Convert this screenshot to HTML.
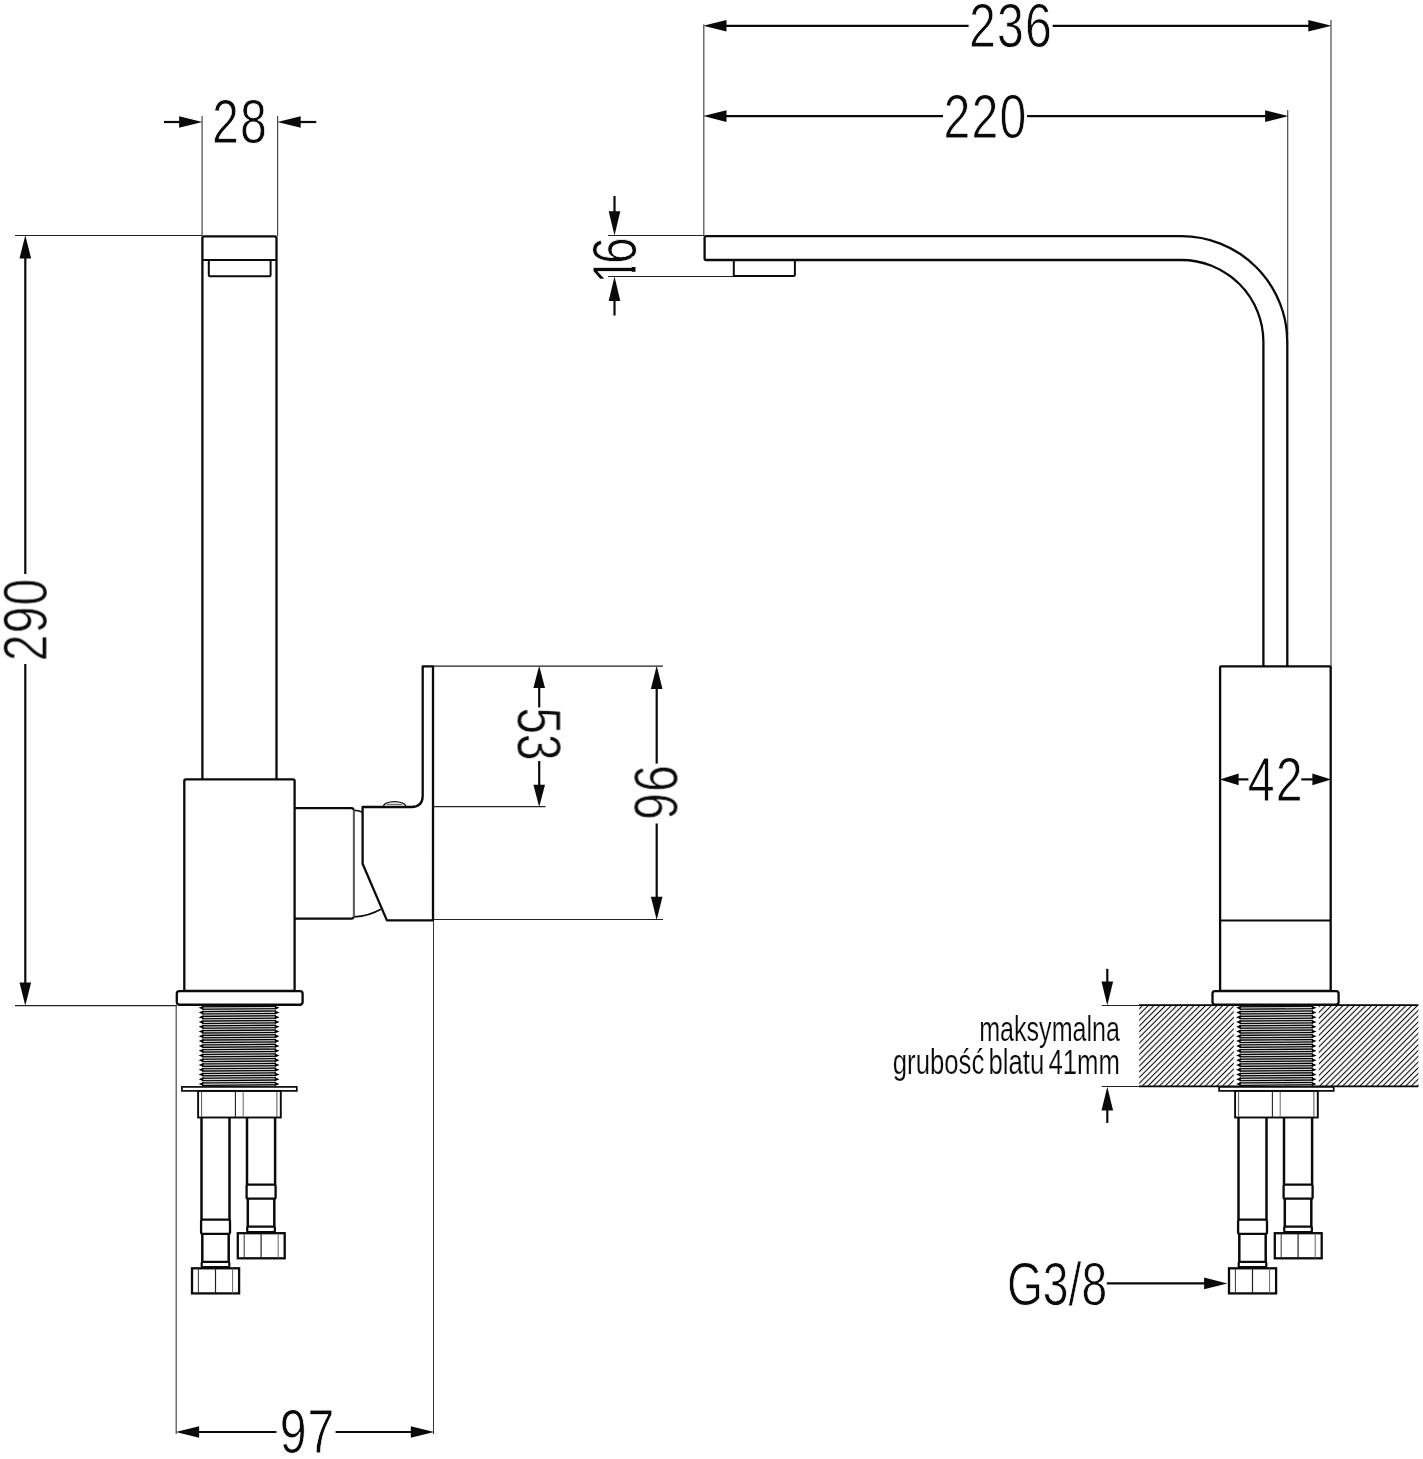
<!DOCTYPE html>
<html lang="pl">
<head>
<meta charset="utf-8">
<title>Rysunek techniczny baterii</title>
<style>
html,body{margin:0;padding:0;background:#fff;}
body{width:1423px;height:1459px;overflow:hidden;}
svg{display:block;}
text{font-family:"Liberation Sans",sans-serif;fill:#0a0a0a;}
.tx{opacity:0.999;}
.w{word-spacing:-4px;}
</style>
</head>
<body>
<svg width="1423" height="1459" viewBox="0 0 1423 1459">
<defs>
<pattern id="h" width="4.05" height="4.05" patternUnits="userSpaceOnUse" patternTransform="translate(1139.2,1006) rotate(-45)">
<rect x="0" y="1.5" width="4.05" height="1.05" fill="#000"/>
</pattern>
</defs>
<rect width="1423" height="1459" fill="#fff"/>
<g class="tx">
<text class="d" transform="translate(239.90,143.30) scale(0.77,1)" font-size="62.6" text-anchor="middle" stroke="#fff" stroke-width="0.9" letter-spacing="1.5">28</text>
<text class="d" transform="translate(46.80,619.40) rotate(-90) scale(0.77,1)" font-size="62.6" text-anchor="middle" stroke="#fff" stroke-width="0.9" letter-spacing="1.5">290</text>
<text class="d" transform="translate(517.60,733.80) rotate(90) scale(0.77,1)" font-size="62.6" text-anchor="middle" stroke="#fff" stroke-width="0.9" letter-spacing="-0.5">53</text>
<text class="d" transform="translate(634.40,793.00) rotate(90) scale(0.77,1)" font-size="62.6" text-anchor="middle" stroke="#fff" stroke-width="0.9" letter-spacing="1.5">96</text>
<text class="d" transform="translate(307.60,1453.00) scale(0.77,1)" font-size="62.6" text-anchor="middle" stroke="#fff" stroke-width="0.9" letter-spacing="1.5">97</text>
<text class="d" transform="translate(1011.00,47.20) scale(0.77,1)" font-size="62.6" text-anchor="middle" stroke="#fff" stroke-width="0.9" letter-spacing="1.5">236</text>
<text class="d" transform="translate(985.40,138.10) scale(0.77,1)" font-size="62.6" text-anchor="middle" stroke="#fff" stroke-width="0.9" letter-spacing="1.5">220</text>
<text transform="translate(635.9,283.8) rotate(-90) scale(0.77,1)" font-size="62.6" stroke="#fff" stroke-width="0.9">1<tspan dx="-9.2">6</tspan></text>
<rect x="630.4" y="271.8" width="7" height="9.5" fill="#fff"/>
<rect x="631.6" y="256.5" width="6" height="10.5" fill="#fff"/>
<text class="d" transform="translate(1275.80,801.00) scale(0.77,1)" font-size="62.6" text-anchor="middle" stroke="#fff" stroke-width="0.9" letter-spacing="1.5">42</text>
<text class="d" transform="translate(1057.00,1304.50) scale(0.752,1)" font-size="61.5" text-anchor="middle" stroke="#fff" stroke-width="0.9">G3/8</text>
<text class="s" transform="translate(1120.00,1040.80) scale(0.734,1)" font-size="34.2" text-anchor="end" stroke="#fff" stroke-width="0.2">maksymalna</text>
<text class="s w" transform="translate(1120.00,1073.80) scale(0.753,1)" font-size="34.2" text-anchor="end" stroke="#fff" stroke-width="0.2">grubość blatu 41mm</text>
</g>
<line x1="202.10" y1="116.00" x2="202.10" y2="236.00" stroke="#484848" stroke-width="1.2" stroke-linecap="butt"/>
<line x1="277.60" y1="116.00" x2="277.60" y2="236.00" stroke="#484848" stroke-width="1.2" stroke-linecap="butt"/>
<line x1="15.00" y1="235.50" x2="202.00" y2="235.50" stroke="#222" stroke-width="1.2" stroke-linecap="butt"/>
<line x1="15.00" y1="1005.60" x2="177.00" y2="1005.60" stroke="#222" stroke-width="1.2" stroke-linecap="butt"/>
<line x1="176.20" y1="1005.00" x2="176.20" y2="1434.00" stroke="#484848" stroke-width="1.2" stroke-linecap="butt"/>
<line x1="433.50" y1="920.00" x2="433.50" y2="1434.00" stroke="#333" stroke-width="1.0" stroke-linecap="butt"/>
<line x1="433.00" y1="666.20" x2="663.00" y2="666.20" stroke="#222" stroke-width="1.2" stroke-linecap="butt"/>
<line x1="433.00" y1="806.60" x2="545.50" y2="806.60" stroke="#222" stroke-width="1.2" stroke-linecap="butt"/>
<line x1="433.00" y1="919.50" x2="663.00" y2="919.50" stroke="#222" stroke-width="1.2" stroke-linecap="butt"/>
<path d="M202.4,779.4 V238 Q202.4,236.3 204.1,236.3 H274.8 Q276.5,236.3 276.5,238 V779.4" fill="none" stroke="#0a0a0a" stroke-width="2.3" stroke-linejoin="round" stroke-linecap="butt"/>
<line x1="202.40" y1="260.00" x2="276.50" y2="260.00" stroke="#0a0a0a" stroke-width="2.2" stroke-linecap="butt"/>
<path d="M208.8,260 V275 Q208.8,276.2 210,276.2 H269.4 Q270.6,276.2 270.6,275 V260" fill="none" stroke="#0a0a0a" stroke-width="2.0" stroke-linejoin="round" stroke-linecap="butt"/>
<rect x="184.30" y="779.40" width="110.30" height="211.60" rx="1.5" ry="1.5" fill="none" stroke="#0a0a0a" stroke-width="2.3"/>
<rect x="176.80" y="991.20" width="125.80" height="13.40" rx="2.5" ry="2.5" fill="#fff" stroke="#0a0a0a" stroke-width="2.3"/>
<clipPath id="c199"><rect x="197.20" y="1005.60" width="83.80" height="80.60"/></clipPath>
<g clip-path="url(#c199)">
<rect x="202.40" y="1005.60" width="73.40" height="80.60" fill="#727272"/>
<line x1="202.20" y1="1002.09" x2="276.00" y2="1001.52" stroke="#000" stroke-width="1.1" stroke-linecap="butt"/>
<line x1="202.20" y1="1003.33" x2="276.00" y2="1002.75" stroke="#fff" stroke-width="0.75" stroke-linecap="butt"/>
<line x1="202.20" y1="1004.52" x2="276.00" y2="1003.94" stroke="#000" stroke-width="1.1" stroke-linecap="butt"/>
<line x1="202.20" y1="1005.71" x2="276.00" y2="1005.13" stroke="#fff" stroke-width="0.75" stroke-linecap="butt"/>
<line x1="202.20" y1="1006.85" x2="276.00" y2="1006.28" stroke="#000" stroke-width="1.1" stroke-linecap="butt"/>
<line x1="202.20" y1="1008.09" x2="276.00" y2="1007.51" stroke="#fff" stroke-width="0.75" stroke-linecap="butt"/>
<line x1="202.20" y1="1009.28" x2="276.00" y2="1008.70" stroke="#000" stroke-width="1.1" stroke-linecap="butt"/>
<line x1="202.20" y1="1010.47" x2="276.00" y2="1009.89" stroke="#fff" stroke-width="0.75" stroke-linecap="butt"/>
<line x1="202.20" y1="1011.61" x2="276.00" y2="1011.04" stroke="#000" stroke-width="1.1" stroke-linecap="butt"/>
<line x1="202.20" y1="1012.85" x2="276.00" y2="1012.27" stroke="#fff" stroke-width="0.75" stroke-linecap="butt"/>
<line x1="202.20" y1="1014.04" x2="276.00" y2="1013.46" stroke="#000" stroke-width="1.1" stroke-linecap="butt"/>
<line x1="202.20" y1="1015.23" x2="276.00" y2="1014.65" stroke="#fff" stroke-width="0.75" stroke-linecap="butt"/>
<line x1="202.20" y1="1016.37" x2="276.00" y2="1015.80" stroke="#000" stroke-width="1.1" stroke-linecap="butt"/>
<line x1="202.20" y1="1017.61" x2="276.00" y2="1017.03" stroke="#fff" stroke-width="0.75" stroke-linecap="butt"/>
<line x1="202.20" y1="1018.80" x2="276.00" y2="1018.22" stroke="#000" stroke-width="1.1" stroke-linecap="butt"/>
<line x1="202.20" y1="1019.99" x2="276.00" y2="1019.41" stroke="#fff" stroke-width="0.75" stroke-linecap="butt"/>
<line x1="202.20" y1="1021.13" x2="276.00" y2="1020.56" stroke="#000" stroke-width="1.1" stroke-linecap="butt"/>
<line x1="202.20" y1="1022.37" x2="276.00" y2="1021.79" stroke="#fff" stroke-width="0.75" stroke-linecap="butt"/>
<line x1="202.20" y1="1023.56" x2="276.00" y2="1022.98" stroke="#000" stroke-width="1.1" stroke-linecap="butt"/>
<line x1="202.20" y1="1024.75" x2="276.00" y2="1024.17" stroke="#fff" stroke-width="0.75" stroke-linecap="butt"/>
<line x1="202.20" y1="1025.89" x2="276.00" y2="1025.32" stroke="#000" stroke-width="1.1" stroke-linecap="butt"/>
<line x1="202.20" y1="1027.13" x2="276.00" y2="1026.55" stroke="#fff" stroke-width="0.75" stroke-linecap="butt"/>
<line x1="202.20" y1="1028.32" x2="276.00" y2="1027.74" stroke="#000" stroke-width="1.1" stroke-linecap="butt"/>
<line x1="202.20" y1="1029.51" x2="276.00" y2="1028.93" stroke="#fff" stroke-width="0.75" stroke-linecap="butt"/>
<line x1="202.20" y1="1030.65" x2="276.00" y2="1030.08" stroke="#000" stroke-width="1.1" stroke-linecap="butt"/>
<line x1="202.20" y1="1031.89" x2="276.00" y2="1031.31" stroke="#fff" stroke-width="0.75" stroke-linecap="butt"/>
<line x1="202.20" y1="1033.08" x2="276.00" y2="1032.50" stroke="#000" stroke-width="1.1" stroke-linecap="butt"/>
<line x1="202.20" y1="1034.27" x2="276.00" y2="1033.69" stroke="#fff" stroke-width="0.75" stroke-linecap="butt"/>
<line x1="202.20" y1="1035.41" x2="276.00" y2="1034.84" stroke="#000" stroke-width="1.1" stroke-linecap="butt"/>
<line x1="202.20" y1="1036.65" x2="276.00" y2="1036.07" stroke="#fff" stroke-width="0.75" stroke-linecap="butt"/>
<line x1="202.20" y1="1037.84" x2="276.00" y2="1037.26" stroke="#000" stroke-width="1.1" stroke-linecap="butt"/>
<line x1="202.20" y1="1039.03" x2="276.00" y2="1038.45" stroke="#fff" stroke-width="0.75" stroke-linecap="butt"/>
<line x1="202.20" y1="1040.17" x2="276.00" y2="1039.60" stroke="#000" stroke-width="1.1" stroke-linecap="butt"/>
<line x1="202.20" y1="1041.41" x2="276.00" y2="1040.83" stroke="#fff" stroke-width="0.75" stroke-linecap="butt"/>
<line x1="202.20" y1="1042.60" x2="276.00" y2="1042.02" stroke="#000" stroke-width="1.1" stroke-linecap="butt"/>
<line x1="202.20" y1="1043.79" x2="276.00" y2="1043.21" stroke="#fff" stroke-width="0.75" stroke-linecap="butt"/>
<line x1="202.20" y1="1044.93" x2="276.00" y2="1044.36" stroke="#000" stroke-width="1.1" stroke-linecap="butt"/>
<line x1="202.20" y1="1046.17" x2="276.00" y2="1045.59" stroke="#fff" stroke-width="0.75" stroke-linecap="butt"/>
<line x1="202.20" y1="1047.36" x2="276.00" y2="1046.78" stroke="#000" stroke-width="1.1" stroke-linecap="butt"/>
<line x1="202.20" y1="1048.55" x2="276.00" y2="1047.97" stroke="#fff" stroke-width="0.75" stroke-linecap="butt"/>
<line x1="202.20" y1="1049.69" x2="276.00" y2="1049.12" stroke="#000" stroke-width="1.1" stroke-linecap="butt"/>
<line x1="202.20" y1="1050.93" x2="276.00" y2="1050.35" stroke="#fff" stroke-width="0.75" stroke-linecap="butt"/>
<line x1="202.20" y1="1052.12" x2="276.00" y2="1051.54" stroke="#000" stroke-width="1.1" stroke-linecap="butt"/>
<line x1="202.20" y1="1053.31" x2="276.00" y2="1052.73" stroke="#fff" stroke-width="0.75" stroke-linecap="butt"/>
<line x1="202.20" y1="1054.45" x2="276.00" y2="1053.88" stroke="#000" stroke-width="1.1" stroke-linecap="butt"/>
<line x1="202.20" y1="1055.69" x2="276.00" y2="1055.11" stroke="#fff" stroke-width="0.75" stroke-linecap="butt"/>
<line x1="202.20" y1="1056.88" x2="276.00" y2="1056.30" stroke="#000" stroke-width="1.1" stroke-linecap="butt"/>
<line x1="202.20" y1="1058.07" x2="276.00" y2="1057.49" stroke="#fff" stroke-width="0.75" stroke-linecap="butt"/>
<line x1="202.20" y1="1059.21" x2="276.00" y2="1058.64" stroke="#000" stroke-width="1.1" stroke-linecap="butt"/>
<line x1="202.20" y1="1060.45" x2="276.00" y2="1059.87" stroke="#fff" stroke-width="0.75" stroke-linecap="butt"/>
<line x1="202.20" y1="1061.64" x2="276.00" y2="1061.06" stroke="#000" stroke-width="1.1" stroke-linecap="butt"/>
<line x1="202.20" y1="1062.83" x2="276.00" y2="1062.25" stroke="#fff" stroke-width="0.75" stroke-linecap="butt"/>
<line x1="202.20" y1="1063.97" x2="276.00" y2="1063.40" stroke="#000" stroke-width="1.1" stroke-linecap="butt"/>
<line x1="202.20" y1="1065.21" x2="276.00" y2="1064.63" stroke="#fff" stroke-width="0.75" stroke-linecap="butt"/>
<line x1="202.20" y1="1066.40" x2="276.00" y2="1065.82" stroke="#000" stroke-width="1.1" stroke-linecap="butt"/>
<line x1="202.20" y1="1067.59" x2="276.00" y2="1067.01" stroke="#fff" stroke-width="0.75" stroke-linecap="butt"/>
<line x1="202.20" y1="1068.73" x2="276.00" y2="1068.16" stroke="#000" stroke-width="1.1" stroke-linecap="butt"/>
<line x1="202.20" y1="1069.97" x2="276.00" y2="1069.39" stroke="#fff" stroke-width="0.75" stroke-linecap="butt"/>
<line x1="202.20" y1="1071.16" x2="276.00" y2="1070.58" stroke="#000" stroke-width="1.1" stroke-linecap="butt"/>
<line x1="202.20" y1="1072.35" x2="276.00" y2="1071.77" stroke="#fff" stroke-width="0.75" stroke-linecap="butt"/>
<line x1="202.20" y1="1073.49" x2="276.00" y2="1072.92" stroke="#000" stroke-width="1.1" stroke-linecap="butt"/>
<line x1="202.20" y1="1074.73" x2="276.00" y2="1074.15" stroke="#fff" stroke-width="0.75" stroke-linecap="butt"/>
<line x1="202.20" y1="1075.92" x2="276.00" y2="1075.34" stroke="#000" stroke-width="1.1" stroke-linecap="butt"/>
<line x1="202.20" y1="1077.11" x2="276.00" y2="1076.53" stroke="#fff" stroke-width="0.75" stroke-linecap="butt"/>
<line x1="202.20" y1="1078.25" x2="276.00" y2="1077.68" stroke="#000" stroke-width="1.1" stroke-linecap="butt"/>
<line x1="202.20" y1="1079.49" x2="276.00" y2="1078.91" stroke="#fff" stroke-width="0.75" stroke-linecap="butt"/>
<line x1="202.20" y1="1080.68" x2="276.00" y2="1080.10" stroke="#000" stroke-width="1.1" stroke-linecap="butt"/>
<line x1="202.20" y1="1081.87" x2="276.00" y2="1081.29" stroke="#fff" stroke-width="0.75" stroke-linecap="butt"/>
<line x1="202.20" y1="1083.01" x2="276.00" y2="1082.44" stroke="#000" stroke-width="1.1" stroke-linecap="butt"/>
<line x1="202.20" y1="1084.25" x2="276.00" y2="1083.67" stroke="#fff" stroke-width="0.75" stroke-linecap="butt"/>
<line x1="202.20" y1="1085.44" x2="276.00" y2="1084.86" stroke="#000" stroke-width="1.1" stroke-linecap="butt"/>
<line x1="202.20" y1="1086.63" x2="276.00" y2="1086.05" stroke="#fff" stroke-width="0.75" stroke-linecap="butt"/>
<line x1="202.20" y1="1087.77" x2="276.00" y2="1087.20" stroke="#000" stroke-width="1.1" stroke-linecap="butt"/>
<line x1="202.20" y1="1089.01" x2="276.00" y2="1088.43" stroke="#fff" stroke-width="0.75" stroke-linecap="butt"/>
<line x1="202.20" y1="1090.20" x2="276.00" y2="1089.62" stroke="#000" stroke-width="1.1" stroke-linecap="butt"/>
<line x1="202.20" y1="1091.39" x2="276.00" y2="1090.81" stroke="#fff" stroke-width="0.75" stroke-linecap="butt"/>
<path d="M198.70,1003.04 L203.40,1001.04 V1005.04 Z M198.70,1007.80 L203.40,1005.80 V1009.80 Z M198.70,1012.56 L203.40,1010.56 V1014.56 Z M198.70,1017.32 L203.40,1015.32 V1019.32 Z M198.70,1022.08 L203.40,1020.08 V1024.08 Z M198.70,1026.84 L203.40,1024.84 V1028.84 Z M198.70,1031.60 L203.40,1029.60 V1033.60 Z M198.70,1036.36 L203.40,1034.36 V1038.36 Z M198.70,1041.12 L203.40,1039.12 V1043.12 Z M198.70,1045.88 L203.40,1043.88 V1047.88 Z M198.70,1050.64 L203.40,1048.64 V1052.64 Z M198.70,1055.40 L203.40,1053.40 V1057.40 Z M198.70,1060.16 L203.40,1058.16 V1062.16 Z M198.70,1064.92 L203.40,1062.92 V1066.92 Z M198.70,1069.68 L203.40,1067.68 V1071.68 Z M198.70,1074.44 L203.40,1072.44 V1076.44 Z M198.70,1079.20 L203.40,1077.20 V1081.20 Z M198.70,1083.96 L203.40,1081.96 V1085.96 Z M198.70,1088.72 L203.40,1086.72 V1090.72 Z M279.50,1003.04 L274.80,1001.04 V1005.04 Z M279.50,1007.80 L274.80,1005.80 V1009.80 Z M279.50,1012.56 L274.80,1010.56 V1014.56 Z M279.50,1017.32 L274.80,1015.32 V1019.32 Z M279.50,1022.08 L274.80,1020.08 V1024.08 Z M279.50,1026.84 L274.80,1024.84 V1028.84 Z M279.50,1031.60 L274.80,1029.60 V1033.60 Z M279.50,1036.36 L274.80,1034.36 V1038.36 Z M279.50,1041.12 L274.80,1039.12 V1043.12 Z M279.50,1045.88 L274.80,1043.88 V1047.88 Z M279.50,1050.64 L274.80,1048.64 V1052.64 Z M279.50,1055.40 L274.80,1053.40 V1057.40 Z M279.50,1060.16 L274.80,1058.16 V1062.16 Z M279.50,1064.92 L274.80,1062.92 V1066.92 Z M279.50,1069.68 L274.80,1067.68 V1071.68 Z M279.50,1074.44 L274.80,1072.44 V1076.44 Z M279.50,1079.20 L274.80,1077.20 V1081.20 Z M279.50,1083.96 L274.80,1081.96 V1085.96 Z M279.50,1088.72 L274.80,1086.72 V1090.72 Z " fill="#000"/>
</g>
<line x1="178.50" y1="1005.00" x2="301.00" y2="1005.00" stroke="#0a0a0a" stroke-width="1.8" stroke-linecap="butt"/>
<rect x="181.90" y="1086.90" width="114.90" height="4.00" rx="0" ry="0" fill="#fff" stroke="#0a0a0a" stroke-width="1.7"/>
<rect x="198.10" y="1090.90" width="82.70" height="26.60" rx="0" ry="0" fill="none" stroke="#0a0a0a" stroke-width="1.9"/>
<line x1="201.60" y1="1091.50" x2="201.60" y2="1117.00" stroke="#555" stroke-width="1.0" stroke-linecap="butt"/>
<line x1="235.40" y1="1091.50" x2="235.40" y2="1117.00" stroke="#222" stroke-width="1.1" stroke-linecap="butt"/>
<line x1="243.20" y1="1091.50" x2="243.20" y2="1117.00" stroke="#666" stroke-width="1.0" stroke-linecap="butt"/>
<line x1="276.90" y1="1091.50" x2="276.90" y2="1117.00" stroke="#555" stroke-width="1.0" stroke-linecap="butt"/>
<line x1="201.50" y1="1117.50" x2="201.50" y2="1219.60" stroke="#0a0a0a" stroke-width="2.5" stroke-linecap="butt"/>
<line x1="229.50" y1="1117.50" x2="229.50" y2="1219.60" stroke="#0a0a0a" stroke-width="2.5" stroke-linecap="butt"/>
<rect x="201.10" y="1219.70" width="28.90" height="14.10" rx="1.5" ry="1.5" fill="none" stroke="#0a0a0a" stroke-width="2.3"/>
<line x1="202.30" y1="1233.60" x2="202.30" y2="1262.00" stroke="#0a0a0a" stroke-width="2.5" stroke-linecap="butt"/>
<line x1="228.70" y1="1233.60" x2="228.70" y2="1262.00" stroke="#0a0a0a" stroke-width="2.5" stroke-linecap="butt"/>
<rect x="201.70" y="1261.80" width="27.60" height="5.40" rx="1.5" ry="1.5" fill="none" stroke="#0a0a0a" stroke-width="2.2"/>
<rect x="192.00" y="1268.30" width="47.10" height="25.10" rx="0" ry="0" fill="none" stroke="#0a0a0a" stroke-width="2.3"/>
<line x1="198.40" y1="1268.40" x2="198.40" y2="1293.40" stroke="#333" stroke-width="1.0" stroke-linecap="butt"/>
<line x1="215.50" y1="1268.40" x2="215.50" y2="1293.40" stroke="#222" stroke-width="1.2" stroke-linecap="butt"/>
<line x1="232.60" y1="1268.40" x2="232.60" y2="1293.40" stroke="#666" stroke-width="1.0" stroke-linecap="butt"/>
<line x1="247.00" y1="1117.50" x2="247.00" y2="1184.50" stroke="#0a0a0a" stroke-width="2.5" stroke-linecap="butt"/>
<line x1="275.10" y1="1117.50" x2="275.10" y2="1184.50" stroke="#0a0a0a" stroke-width="2.5" stroke-linecap="butt"/>
<rect x="246.60" y="1184.60" width="29.00" height="14.10" rx="1.5" ry="1.5" fill="none" stroke="#0a0a0a" stroke-width="2.3"/>
<line x1="247.80" y1="1198.50" x2="247.80" y2="1226.90" stroke="#0a0a0a" stroke-width="2.5" stroke-linecap="butt"/>
<line x1="274.30" y1="1198.50" x2="274.30" y2="1226.90" stroke="#0a0a0a" stroke-width="2.5" stroke-linecap="butt"/>
<rect x="247.20" y="1226.70" width="27.70" height="5.40" rx="1.5" ry="1.5" fill="none" stroke="#0a0a0a" stroke-width="2.2"/>
<rect x="237.80" y="1233.20" width="46.90" height="25.10" rx="0" ry="0" fill="none" stroke="#0a0a0a" stroke-width="2.3"/>
<line x1="244.20" y1="1233.30" x2="244.20" y2="1258.30" stroke="#333" stroke-width="1.0" stroke-linecap="butt"/>
<line x1="261.10" y1="1233.30" x2="261.10" y2="1258.30" stroke="#222" stroke-width="1.2" stroke-linecap="butt"/>
<line x1="278.20" y1="1233.30" x2="278.20" y2="1258.30" stroke="#666" stroke-width="1.0" stroke-linecap="butt"/>
<path d="M295,808.2 H351.6 Q353.4,808.2 353.4,810 M295,918.6 H351.6 Q353.4,918.6 353.4,916.8" fill="none" stroke="#0a0a0a" stroke-width="2.3" stroke-linejoin="round" stroke-linecap="butt"/>
<line x1="353.90" y1="809.50" x2="353.90" y2="917.50" stroke="#5a5a5a" stroke-width="2.1" stroke-linecap="butt"/>
<path d="M354.3,810.3 Q358,810.6 362,812" fill="none" stroke="#0a0a0a" stroke-width="1.6" stroke-linejoin="round" stroke-linecap="butt"/>
<path d="M354.3,916.8 Q369,916 380.8,909.2" fill="none" stroke="#0a0a0a" stroke-width="1.7" stroke-linejoin="round" stroke-linecap="butt"/>
<path d="M383.4,806.6 A11.2,5.0 0 0 1 405.8,806.6" fill="#fff" stroke="#0a0a0a" stroke-width="1.2" stroke-linejoin="round" stroke-linecap="butt"/>
<line x1="386.80" y1="804.30" x2="402.40" y2="804.30" stroke="#222" stroke-width="0.8" stroke-linecap="butt"/>
<path d="M422.7,666.4 H433.0 V920.4 H386.9 L362.6,863.8 V807.0 H411.5 Q422.7,807.0 422.7,795.8 Z" fill="none" stroke="#0a0a0a" stroke-width="2.3" stroke-linejoin="round" stroke-linecap="butt"/>
<line x1="164.00" y1="122.00" x2="180.00" y2="122.00" stroke="#0a0a0a" stroke-width="2.2" stroke-linecap="butt"/>
<polygon points="202.40,122.00 179.10,116.20 179.10,127.80" fill="#0a0a0a"/>
<line x1="300.00" y1="122.00" x2="316.30" y2="122.00" stroke="#0a0a0a" stroke-width="2.2" stroke-linecap="butt"/>
<polygon points="277.40,122.00 300.70,116.20 300.70,127.80" fill="#0a0a0a"/>
<line x1="25.30" y1="258.00" x2="25.30" y2="574.00" stroke="#0a0a0a" stroke-width="2.2" stroke-linecap="butt"/>
<line x1="25.30" y1="664.00" x2="25.30" y2="983.00" stroke="#0a0a0a" stroke-width="2.2" stroke-linecap="butt"/>
<polygon points="25.30,235.20 19.50,258.50 31.10,258.50" fill="#0a0a0a"/>
<polygon points="25.30,1005.80 19.50,982.50 31.10,982.50" fill="#0a0a0a"/>
<line x1="539.20" y1="687.00" x2="539.20" y2="707.40" stroke="#0a0a0a" stroke-width="2.2" stroke-linecap="butt"/>
<line x1="539.20" y1="761.00" x2="539.20" y2="785.00" stroke="#0a0a0a" stroke-width="2.2" stroke-linecap="butt"/>
<polygon points="539.20,665.80 533.40,688.10 545.00,688.10" fill="#0a0a0a"/>
<polygon points="539.20,807.00 533.40,784.70 545.00,784.70" fill="#0a0a0a"/>
<line x1="656.70" y1="688.00" x2="656.70" y2="763.60" stroke="#0a0a0a" stroke-width="2.2" stroke-linecap="butt"/>
<line x1="656.70" y1="823.50" x2="656.70" y2="898.00" stroke="#0a0a0a" stroke-width="2.2" stroke-linecap="butt"/>
<polygon points="656.70,665.80 650.90,689.10 662.50,689.10" fill="#0a0a0a"/>
<polygon points="656.70,920.00 650.90,896.70 662.50,896.70" fill="#0a0a0a"/>
<line x1="198.00" y1="1432.00" x2="276.50" y2="1432.00" stroke="#0a0a0a" stroke-width="2.2" stroke-linecap="butt"/>
<line x1="335.60" y1="1432.00" x2="412.00" y2="1432.00" stroke="#0a0a0a" stroke-width="2.2" stroke-linecap="butt"/>
<polygon points="175.80,1432.00 199.10,1426.20 199.10,1437.80" fill="#0a0a0a"/>
<polygon points="434.10,1432.00 410.80,1426.20 410.80,1437.80" fill="#0a0a0a"/>
<line x1="703.80" y1="24.50" x2="703.80" y2="236.00" stroke="#484848" stroke-width="1.2" stroke-linecap="butt"/>
<line x1="1331.00" y1="20.00" x2="1331.00" y2="668.00" stroke="#484848" stroke-width="1.2" stroke-linecap="butt"/>
<line x1="1287.70" y1="110.00" x2="1287.70" y2="335.00" stroke="#484848" stroke-width="1.2" stroke-linecap="butt"/>
<line x1="608.00" y1="235.50" x2="704.00" y2="235.50" stroke="#222" stroke-width="1.1" stroke-linecap="butt"/>
<line x1="608.00" y1="276.50" x2="734.00" y2="276.50" stroke="#222" stroke-width="1.1" stroke-linecap="butt"/>
<line x1="1101.70" y1="1005.50" x2="1139.50" y2="1005.50" stroke="#222" stroke-width="1.1" stroke-linecap="butt"/>
<line x1="1101.70" y1="1086.50" x2="1139.50" y2="1086.50" stroke="#222" stroke-width="1.1" stroke-linecap="butt"/>
<line x1="1139.00" y1="1005.20" x2="1418.40" y2="1005.20" stroke="#000" stroke-width="1.7" stroke-linecap="butt"/>
<line x1="1139.00" y1="1086.40" x2="1418.40" y2="1086.40" stroke="#000" stroke-width="1.7" stroke-linecap="butt"/>
<path d="M1287.3,666.3 V342.1 A105.9,105.9 0 0 0 1181.4,236.2 H706.2 Q704.6,236.2 704.6,237.8 V258.4 Q704.6,260.0 706.2,260.0 H1181.4 A82,82 0 0 1 1263.4,342.1 V666.3" fill="none" stroke="#0a0a0a" stroke-width="2.3" stroke-linejoin="round" stroke-linecap="butt"/>
<path d="M733.8,260 V276.0 H793.6 Q794.9,276.0 794.9,274.7 V260" fill="none" stroke="#0a0a0a" stroke-width="2.0" stroke-linejoin="round" stroke-linecap="butt"/>
<rect x="1220.10" y="666.40" width="110.60" height="324.60" rx="1" ry="1" fill="none" stroke="#0a0a0a" stroke-width="2.3"/>
<line x1="1220.10" y1="920.40" x2="1330.70" y2="920.40" stroke="#0a0a0a" stroke-width="2.0" stroke-linecap="butt"/>
<rect x="1139.2" y="1006" width="94.6" height="80.3" fill="url(#h)"/>
<rect x="1318.8" y="1006" width="99.6" height="80.3" fill="url(#h)"/>
<rect x="1212.50" y="991.20" width="126.10" height="13.40" rx="2.5" ry="2.5" fill="#fff" stroke="#0a0a0a" stroke-width="2.3"/>
<clipPath id="c1236"><rect x="1234.60" y="1005.60" width="83.40" height="80.60"/></clipPath>
<g clip-path="url(#c1236)">
<rect x="1239.80" y="1005.60" width="73.00" height="80.60" fill="#727272"/>
<line x1="1239.60" y1="1002.09" x2="1313.00" y2="1001.52" stroke="#000" stroke-width="1.1" stroke-linecap="butt"/>
<line x1="1239.60" y1="1003.33" x2="1313.00" y2="1002.75" stroke="#fff" stroke-width="0.75" stroke-linecap="butt"/>
<line x1="1239.60" y1="1004.52" x2="1313.00" y2="1003.94" stroke="#000" stroke-width="1.1" stroke-linecap="butt"/>
<line x1="1239.60" y1="1005.71" x2="1313.00" y2="1005.13" stroke="#fff" stroke-width="0.75" stroke-linecap="butt"/>
<line x1="1239.60" y1="1006.85" x2="1313.00" y2="1006.28" stroke="#000" stroke-width="1.1" stroke-linecap="butt"/>
<line x1="1239.60" y1="1008.09" x2="1313.00" y2="1007.51" stroke="#fff" stroke-width="0.75" stroke-linecap="butt"/>
<line x1="1239.60" y1="1009.28" x2="1313.00" y2="1008.70" stroke="#000" stroke-width="1.1" stroke-linecap="butt"/>
<line x1="1239.60" y1="1010.47" x2="1313.00" y2="1009.89" stroke="#fff" stroke-width="0.75" stroke-linecap="butt"/>
<line x1="1239.60" y1="1011.61" x2="1313.00" y2="1011.04" stroke="#000" stroke-width="1.1" stroke-linecap="butt"/>
<line x1="1239.60" y1="1012.85" x2="1313.00" y2="1012.27" stroke="#fff" stroke-width="0.75" stroke-linecap="butt"/>
<line x1="1239.60" y1="1014.04" x2="1313.00" y2="1013.46" stroke="#000" stroke-width="1.1" stroke-linecap="butt"/>
<line x1="1239.60" y1="1015.23" x2="1313.00" y2="1014.65" stroke="#fff" stroke-width="0.75" stroke-linecap="butt"/>
<line x1="1239.60" y1="1016.37" x2="1313.00" y2="1015.80" stroke="#000" stroke-width="1.1" stroke-linecap="butt"/>
<line x1="1239.60" y1="1017.61" x2="1313.00" y2="1017.03" stroke="#fff" stroke-width="0.75" stroke-linecap="butt"/>
<line x1="1239.60" y1="1018.80" x2="1313.00" y2="1018.22" stroke="#000" stroke-width="1.1" stroke-linecap="butt"/>
<line x1="1239.60" y1="1019.99" x2="1313.00" y2="1019.41" stroke="#fff" stroke-width="0.75" stroke-linecap="butt"/>
<line x1="1239.60" y1="1021.13" x2="1313.00" y2="1020.56" stroke="#000" stroke-width="1.1" stroke-linecap="butt"/>
<line x1="1239.60" y1="1022.37" x2="1313.00" y2="1021.79" stroke="#fff" stroke-width="0.75" stroke-linecap="butt"/>
<line x1="1239.60" y1="1023.56" x2="1313.00" y2="1022.98" stroke="#000" stroke-width="1.1" stroke-linecap="butt"/>
<line x1="1239.60" y1="1024.75" x2="1313.00" y2="1024.17" stroke="#fff" stroke-width="0.75" stroke-linecap="butt"/>
<line x1="1239.60" y1="1025.89" x2="1313.00" y2="1025.32" stroke="#000" stroke-width="1.1" stroke-linecap="butt"/>
<line x1="1239.60" y1="1027.13" x2="1313.00" y2="1026.55" stroke="#fff" stroke-width="0.75" stroke-linecap="butt"/>
<line x1="1239.60" y1="1028.32" x2="1313.00" y2="1027.74" stroke="#000" stroke-width="1.1" stroke-linecap="butt"/>
<line x1="1239.60" y1="1029.51" x2="1313.00" y2="1028.93" stroke="#fff" stroke-width="0.75" stroke-linecap="butt"/>
<line x1="1239.60" y1="1030.65" x2="1313.00" y2="1030.08" stroke="#000" stroke-width="1.1" stroke-linecap="butt"/>
<line x1="1239.60" y1="1031.89" x2="1313.00" y2="1031.31" stroke="#fff" stroke-width="0.75" stroke-linecap="butt"/>
<line x1="1239.60" y1="1033.08" x2="1313.00" y2="1032.50" stroke="#000" stroke-width="1.1" stroke-linecap="butt"/>
<line x1="1239.60" y1="1034.27" x2="1313.00" y2="1033.69" stroke="#fff" stroke-width="0.75" stroke-linecap="butt"/>
<line x1="1239.60" y1="1035.41" x2="1313.00" y2="1034.84" stroke="#000" stroke-width="1.1" stroke-linecap="butt"/>
<line x1="1239.60" y1="1036.65" x2="1313.00" y2="1036.07" stroke="#fff" stroke-width="0.75" stroke-linecap="butt"/>
<line x1="1239.60" y1="1037.84" x2="1313.00" y2="1037.26" stroke="#000" stroke-width="1.1" stroke-linecap="butt"/>
<line x1="1239.60" y1="1039.03" x2="1313.00" y2="1038.45" stroke="#fff" stroke-width="0.75" stroke-linecap="butt"/>
<line x1="1239.60" y1="1040.17" x2="1313.00" y2="1039.60" stroke="#000" stroke-width="1.1" stroke-linecap="butt"/>
<line x1="1239.60" y1="1041.41" x2="1313.00" y2="1040.83" stroke="#fff" stroke-width="0.75" stroke-linecap="butt"/>
<line x1="1239.60" y1="1042.60" x2="1313.00" y2="1042.02" stroke="#000" stroke-width="1.1" stroke-linecap="butt"/>
<line x1="1239.60" y1="1043.79" x2="1313.00" y2="1043.21" stroke="#fff" stroke-width="0.75" stroke-linecap="butt"/>
<line x1="1239.60" y1="1044.93" x2="1313.00" y2="1044.36" stroke="#000" stroke-width="1.1" stroke-linecap="butt"/>
<line x1="1239.60" y1="1046.17" x2="1313.00" y2="1045.59" stroke="#fff" stroke-width="0.75" stroke-linecap="butt"/>
<line x1="1239.60" y1="1047.36" x2="1313.00" y2="1046.78" stroke="#000" stroke-width="1.1" stroke-linecap="butt"/>
<line x1="1239.60" y1="1048.55" x2="1313.00" y2="1047.97" stroke="#fff" stroke-width="0.75" stroke-linecap="butt"/>
<line x1="1239.60" y1="1049.69" x2="1313.00" y2="1049.12" stroke="#000" stroke-width="1.1" stroke-linecap="butt"/>
<line x1="1239.60" y1="1050.93" x2="1313.00" y2="1050.35" stroke="#fff" stroke-width="0.75" stroke-linecap="butt"/>
<line x1="1239.60" y1="1052.12" x2="1313.00" y2="1051.54" stroke="#000" stroke-width="1.1" stroke-linecap="butt"/>
<line x1="1239.60" y1="1053.31" x2="1313.00" y2="1052.73" stroke="#fff" stroke-width="0.75" stroke-linecap="butt"/>
<line x1="1239.60" y1="1054.45" x2="1313.00" y2="1053.88" stroke="#000" stroke-width="1.1" stroke-linecap="butt"/>
<line x1="1239.60" y1="1055.69" x2="1313.00" y2="1055.11" stroke="#fff" stroke-width="0.75" stroke-linecap="butt"/>
<line x1="1239.60" y1="1056.88" x2="1313.00" y2="1056.30" stroke="#000" stroke-width="1.1" stroke-linecap="butt"/>
<line x1="1239.60" y1="1058.07" x2="1313.00" y2="1057.49" stroke="#fff" stroke-width="0.75" stroke-linecap="butt"/>
<line x1="1239.60" y1="1059.21" x2="1313.00" y2="1058.64" stroke="#000" stroke-width="1.1" stroke-linecap="butt"/>
<line x1="1239.60" y1="1060.45" x2="1313.00" y2="1059.87" stroke="#fff" stroke-width="0.75" stroke-linecap="butt"/>
<line x1="1239.60" y1="1061.64" x2="1313.00" y2="1061.06" stroke="#000" stroke-width="1.1" stroke-linecap="butt"/>
<line x1="1239.60" y1="1062.83" x2="1313.00" y2="1062.25" stroke="#fff" stroke-width="0.75" stroke-linecap="butt"/>
<line x1="1239.60" y1="1063.97" x2="1313.00" y2="1063.40" stroke="#000" stroke-width="1.1" stroke-linecap="butt"/>
<line x1="1239.60" y1="1065.21" x2="1313.00" y2="1064.63" stroke="#fff" stroke-width="0.75" stroke-linecap="butt"/>
<line x1="1239.60" y1="1066.40" x2="1313.00" y2="1065.82" stroke="#000" stroke-width="1.1" stroke-linecap="butt"/>
<line x1="1239.60" y1="1067.59" x2="1313.00" y2="1067.01" stroke="#fff" stroke-width="0.75" stroke-linecap="butt"/>
<line x1="1239.60" y1="1068.73" x2="1313.00" y2="1068.16" stroke="#000" stroke-width="1.1" stroke-linecap="butt"/>
<line x1="1239.60" y1="1069.97" x2="1313.00" y2="1069.39" stroke="#fff" stroke-width="0.75" stroke-linecap="butt"/>
<line x1="1239.60" y1="1071.16" x2="1313.00" y2="1070.58" stroke="#000" stroke-width="1.1" stroke-linecap="butt"/>
<line x1="1239.60" y1="1072.35" x2="1313.00" y2="1071.77" stroke="#fff" stroke-width="0.75" stroke-linecap="butt"/>
<line x1="1239.60" y1="1073.49" x2="1313.00" y2="1072.92" stroke="#000" stroke-width="1.1" stroke-linecap="butt"/>
<line x1="1239.60" y1="1074.73" x2="1313.00" y2="1074.15" stroke="#fff" stroke-width="0.75" stroke-linecap="butt"/>
<line x1="1239.60" y1="1075.92" x2="1313.00" y2="1075.34" stroke="#000" stroke-width="1.1" stroke-linecap="butt"/>
<line x1="1239.60" y1="1077.11" x2="1313.00" y2="1076.53" stroke="#fff" stroke-width="0.75" stroke-linecap="butt"/>
<line x1="1239.60" y1="1078.25" x2="1313.00" y2="1077.68" stroke="#000" stroke-width="1.1" stroke-linecap="butt"/>
<line x1="1239.60" y1="1079.49" x2="1313.00" y2="1078.91" stroke="#fff" stroke-width="0.75" stroke-linecap="butt"/>
<line x1="1239.60" y1="1080.68" x2="1313.00" y2="1080.10" stroke="#000" stroke-width="1.1" stroke-linecap="butt"/>
<line x1="1239.60" y1="1081.87" x2="1313.00" y2="1081.29" stroke="#fff" stroke-width="0.75" stroke-linecap="butt"/>
<line x1="1239.60" y1="1083.01" x2="1313.00" y2="1082.44" stroke="#000" stroke-width="1.1" stroke-linecap="butt"/>
<line x1="1239.60" y1="1084.25" x2="1313.00" y2="1083.67" stroke="#fff" stroke-width="0.75" stroke-linecap="butt"/>
<line x1="1239.60" y1="1085.44" x2="1313.00" y2="1084.86" stroke="#000" stroke-width="1.1" stroke-linecap="butt"/>
<line x1="1239.60" y1="1086.63" x2="1313.00" y2="1086.05" stroke="#fff" stroke-width="0.75" stroke-linecap="butt"/>
<line x1="1239.60" y1="1087.77" x2="1313.00" y2="1087.20" stroke="#000" stroke-width="1.1" stroke-linecap="butt"/>
<line x1="1239.60" y1="1089.01" x2="1313.00" y2="1088.43" stroke="#fff" stroke-width="0.75" stroke-linecap="butt"/>
<line x1="1239.60" y1="1090.20" x2="1313.00" y2="1089.62" stroke="#000" stroke-width="1.1" stroke-linecap="butt"/>
<line x1="1239.60" y1="1091.39" x2="1313.00" y2="1090.81" stroke="#fff" stroke-width="0.75" stroke-linecap="butt"/>
<path d="M1236.10,1003.04 L1240.80,1001.04 V1005.04 Z M1236.10,1007.80 L1240.80,1005.80 V1009.80 Z M1236.10,1012.56 L1240.80,1010.56 V1014.56 Z M1236.10,1017.32 L1240.80,1015.32 V1019.32 Z M1236.10,1022.08 L1240.80,1020.08 V1024.08 Z M1236.10,1026.84 L1240.80,1024.84 V1028.84 Z M1236.10,1031.60 L1240.80,1029.60 V1033.60 Z M1236.10,1036.36 L1240.80,1034.36 V1038.36 Z M1236.10,1041.12 L1240.80,1039.12 V1043.12 Z M1236.10,1045.88 L1240.80,1043.88 V1047.88 Z M1236.10,1050.64 L1240.80,1048.64 V1052.64 Z M1236.10,1055.40 L1240.80,1053.40 V1057.40 Z M1236.10,1060.16 L1240.80,1058.16 V1062.16 Z M1236.10,1064.92 L1240.80,1062.92 V1066.92 Z M1236.10,1069.68 L1240.80,1067.68 V1071.68 Z M1236.10,1074.44 L1240.80,1072.44 V1076.44 Z M1236.10,1079.20 L1240.80,1077.20 V1081.20 Z M1236.10,1083.96 L1240.80,1081.96 V1085.96 Z M1236.10,1088.72 L1240.80,1086.72 V1090.72 Z M1316.50,1003.04 L1311.80,1001.04 V1005.04 Z M1316.50,1007.80 L1311.80,1005.80 V1009.80 Z M1316.50,1012.56 L1311.80,1010.56 V1014.56 Z M1316.50,1017.32 L1311.80,1015.32 V1019.32 Z M1316.50,1022.08 L1311.80,1020.08 V1024.08 Z M1316.50,1026.84 L1311.80,1024.84 V1028.84 Z M1316.50,1031.60 L1311.80,1029.60 V1033.60 Z M1316.50,1036.36 L1311.80,1034.36 V1038.36 Z M1316.50,1041.12 L1311.80,1039.12 V1043.12 Z M1316.50,1045.88 L1311.80,1043.88 V1047.88 Z M1316.50,1050.64 L1311.80,1048.64 V1052.64 Z M1316.50,1055.40 L1311.80,1053.40 V1057.40 Z M1316.50,1060.16 L1311.80,1058.16 V1062.16 Z M1316.50,1064.92 L1311.80,1062.92 V1066.92 Z M1316.50,1069.68 L1311.80,1067.68 V1071.68 Z M1316.50,1074.44 L1311.80,1072.44 V1076.44 Z M1316.50,1079.20 L1311.80,1077.20 V1081.20 Z M1316.50,1083.96 L1311.80,1081.96 V1085.96 Z M1316.50,1088.72 L1311.80,1086.72 V1090.72 Z " fill="#000"/>
</g>
<line x1="1214.00" y1="1005.00" x2="1337.00" y2="1005.00" stroke="#0a0a0a" stroke-width="1.8" stroke-linecap="butt"/>
<rect x="1219.10" y="1086.90" width="114.60" height="4.00" rx="0" ry="0" fill="#fff" stroke="#0a0a0a" stroke-width="1.7"/>
<rect x="1235.10" y="1090.90" width="82.70" height="26.60" rx="0" ry="0" fill="none" stroke="#0a0a0a" stroke-width="1.9"/>
<line x1="1238.60" y1="1091.50" x2="1238.60" y2="1117.00" stroke="#555" stroke-width="1.0" stroke-linecap="butt"/>
<line x1="1272.40" y1="1091.50" x2="1272.40" y2="1117.00" stroke="#222" stroke-width="1.1" stroke-linecap="butt"/>
<line x1="1280.20" y1="1091.50" x2="1280.20" y2="1117.00" stroke="#666" stroke-width="1.0" stroke-linecap="butt"/>
<line x1="1313.90" y1="1091.50" x2="1313.90" y2="1117.00" stroke="#555" stroke-width="1.0" stroke-linecap="butt"/>
<line x1="1238.50" y1="1117.50" x2="1238.50" y2="1219.60" stroke="#0a0a0a" stroke-width="2.5" stroke-linecap="butt"/>
<line x1="1266.50" y1="1117.50" x2="1266.50" y2="1219.60" stroke="#0a0a0a" stroke-width="2.5" stroke-linecap="butt"/>
<rect x="1238.10" y="1219.70" width="28.90" height="14.10" rx="1.5" ry="1.5" fill="none" stroke="#0a0a0a" stroke-width="2.3"/>
<line x1="1239.30" y1="1233.60" x2="1239.30" y2="1262.00" stroke="#0a0a0a" stroke-width="2.5" stroke-linecap="butt"/>
<line x1="1265.70" y1="1233.60" x2="1265.70" y2="1262.00" stroke="#0a0a0a" stroke-width="2.5" stroke-linecap="butt"/>
<rect x="1238.70" y="1261.80" width="27.60" height="5.40" rx="1.5" ry="1.5" fill="none" stroke="#0a0a0a" stroke-width="2.2"/>
<rect x="1229.00" y="1268.30" width="47.10" height="25.10" rx="0" ry="0" fill="none" stroke="#0a0a0a" stroke-width="2.3"/>
<line x1="1235.40" y1="1268.40" x2="1235.40" y2="1293.40" stroke="#333" stroke-width="1.0" stroke-linecap="butt"/>
<line x1="1252.50" y1="1268.40" x2="1252.50" y2="1293.40" stroke="#222" stroke-width="1.2" stroke-linecap="butt"/>
<line x1="1269.60" y1="1268.40" x2="1269.60" y2="1293.40" stroke="#666" stroke-width="1.0" stroke-linecap="butt"/>
<line x1="1284.00" y1="1117.50" x2="1284.00" y2="1184.50" stroke="#0a0a0a" stroke-width="2.5" stroke-linecap="butt"/>
<line x1="1312.10" y1="1117.50" x2="1312.10" y2="1184.50" stroke="#0a0a0a" stroke-width="2.5" stroke-linecap="butt"/>
<rect x="1283.60" y="1184.60" width="29.00" height="14.10" rx="1.5" ry="1.5" fill="none" stroke="#0a0a0a" stroke-width="2.3"/>
<line x1="1284.80" y1="1198.50" x2="1284.80" y2="1226.90" stroke="#0a0a0a" stroke-width="2.5" stroke-linecap="butt"/>
<line x1="1311.30" y1="1198.50" x2="1311.30" y2="1226.90" stroke="#0a0a0a" stroke-width="2.5" stroke-linecap="butt"/>
<rect x="1284.20" y="1226.70" width="27.70" height="5.40" rx="1.5" ry="1.5" fill="none" stroke="#0a0a0a" stroke-width="2.2"/>
<rect x="1274.80" y="1233.20" width="46.90" height="25.10" rx="0" ry="0" fill="none" stroke="#0a0a0a" stroke-width="2.3"/>
<line x1="1281.20" y1="1233.30" x2="1281.20" y2="1258.30" stroke="#333" stroke-width="1.0" stroke-linecap="butt"/>
<line x1="1298.10" y1="1233.30" x2="1298.10" y2="1258.30" stroke="#222" stroke-width="1.2" stroke-linecap="butt"/>
<line x1="1315.20" y1="1233.30" x2="1315.20" y2="1258.30" stroke="#666" stroke-width="1.0" stroke-linecap="butt"/>
<line x1="725.00" y1="25.80" x2="968.60" y2="25.80" stroke="#0a0a0a" stroke-width="2.2" stroke-linecap="butt"/>
<line x1="1052.70" y1="25.80" x2="1309.50" y2="25.80" stroke="#0a0a0a" stroke-width="2.2" stroke-linecap="butt"/>
<polygon points="703.20,25.80 726.50,20.00 726.50,31.60" fill="#0a0a0a"/>
<polygon points="1331.60,25.80 1308.30,20.00 1308.30,31.60" fill="#0a0a0a"/>
<line x1="726.00" y1="116.10" x2="943.00" y2="116.10" stroke="#0a0a0a" stroke-width="2.2" stroke-linecap="butt"/>
<line x1="1027.10" y1="116.10" x2="1266.00" y2="116.10" stroke="#0a0a0a" stroke-width="2.2" stroke-linecap="butt"/>
<polygon points="703.20,116.10 726.50,110.30 726.50,121.90" fill="#0a0a0a"/>
<polygon points="1288.40,116.10 1265.10,110.30 1265.10,121.90" fill="#0a0a0a"/>
<line x1="614.50" y1="196.00" x2="614.50" y2="212.00" stroke="#0a0a0a" stroke-width="2.2" stroke-linecap="butt"/>
<line x1="614.50" y1="299.00" x2="614.50" y2="315.50" stroke="#0a0a0a" stroke-width="2.2" stroke-linecap="butt"/>
<polygon points="614.50,235.60 608.70,211.30 620.30,211.30" fill="#0a0a0a"/>
<polygon points="614.50,276.60 608.70,300.90 620.30,300.90" fill="#0a0a0a"/>
<line x1="1237.00" y1="779.40" x2="1248.40" y2="779.40" stroke="#0a0a0a" stroke-width="2.2" stroke-linecap="butt"/>
<line x1="1301.30" y1="779.40" x2="1314.00" y2="779.40" stroke="#0a0a0a" stroke-width="2.2" stroke-linecap="butt"/>
<polygon points="1219.80,779.40 1238.60,773.60 1238.60,785.20" fill="#0a0a0a"/>
<polygon points="1331.20,779.40 1312.40,773.60 1312.40,785.20" fill="#0a0a0a"/>
<line x1="1107.30" y1="968.80" x2="1107.30" y2="982.00" stroke="#0a0a0a" stroke-width="2.2" stroke-linecap="butt"/>
<line x1="1107.30" y1="1110.00" x2="1107.30" y2="1122.90" stroke="#0a0a0a" stroke-width="2.2" stroke-linecap="butt"/>
<polygon points="1107.30,1005.40 1101.50,981.60 1113.10,981.60" fill="#0a0a0a"/>
<polygon points="1107.30,1086.80 1101.50,1110.60 1113.10,1110.60" fill="#0a0a0a"/>
<line x1="1106.80" y1="1283.40" x2="1205.00" y2="1283.40" stroke="#0a0a0a" stroke-width="2.2" stroke-linecap="butt"/>
<polygon points="1227.40,1283.40 1204.10,1277.60 1204.10,1289.20" fill="#0a0a0a"/>
</svg>
</body>
</html>
